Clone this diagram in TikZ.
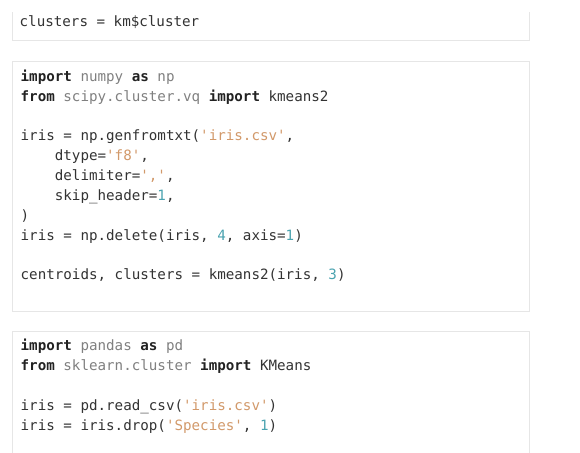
\documentclass[tikz,border=0pt]{standalone}
\usepackage{fontspec}
\setmonofont{DejaVu Sans Mono}
\definecolor{codefg}{HTML}{333333}
\definecolor{kwc}{HTML}{222222}
\definecolor{modc}{HTML}{808080}
\definecolor{strc}{HTML}{D2996A}
\definecolor{numc}{HTML}{4AA3B0}
\definecolor{boxline}{HTML}{E6E6E6}
\newcommand\ckw[1]{\textbf{\color{kwc}#1}}
\newcommand\cmod[1]{\textcolor{modc}{#1}}
\newcommand\cstr[1]{\textcolor{strc}{#1}}
\newcommand\cnum[1]{\textcolor{numc}{#1}}
\newcommand\ind{\phantom{iris}}
\tikzset{
  code/.style={anchor=mid west, inner sep=0pt, text=codefg,
    font=\ttfamily\fontsize{14.2}{16}\selectfont},
  codebox/.style={draw=boxline, line width=0.9pt, fill=white}
}
\begin{document}
\begin{tikzpicture}[x=1pt,y=-1pt]
\useasboundingbox (0,0) rectangle (580,452);
% box 1 (top cut off)
\draw[codebox] (12,12) -- (12,40.5) -- (529,40.5) -- (529,12);
% box 2
\draw[codebox] (12,61.5) rectangle (529,311.5);
% box 3 (bottom cut off)
\draw[codebox] (12,454) -- (12,331.5) -- (529,331.5) -- (529,454);

\node[code] (a1) at (19.5,24) {clusters = km\$cluster};

\node[code] (b1) at (20.5,79) {\ckw{import} \cmod{numpy} \ckw{as} \cmod{np}};
\node[code] (b2) at (20.5,98.9) {\ckw{from} \cmod{scipy.cluster.vq} \ckw{import} kmeans2};
\node[code] (b4) at (20.5,138.6) {iris = np.genfromtxt(\cstr{'iris.csv'},};
\node[code] (b5) at (20.5,158.5) {\ind dtype=\cstr{'f8'},};
\node[code] (b6) at (20.5,178.4) {\ind delimiter=\cstr{','},};
\node[code] (b7) at (20.5,198.2) {\ind skip\_header=\cnum{1},};
\node[code] (b8) at (20.5,218.1) {)};
\node[code] (b9) at (20.5,238.0) {iris = np.delete(iris, \cnum{4}, axis=\cnum{1})};
\node[code] (b11) at (20.5,277.7) {centroids, clusters = kmeans2(iris, \cnum{3})};

\node[code] (c1) at (20.5,348.5) {\ckw{import} \cmod{pandas} \ckw{as} \cmod{pd}};
\node[code] (c2) at (20.5,368.5) {\ckw{from} \cmod{sklearn.cluster} \ckw{import} KMeans};
\node[code] (c4) at (20.5,408.5) {iris = pd.read\_csv(\cstr{'iris.csv'})};
\node[code] (c5) at (20.5,428.5) {iris = iris.drop(\cstr{'Species'}, \cnum{1})};
\end{tikzpicture}
\end{document}
